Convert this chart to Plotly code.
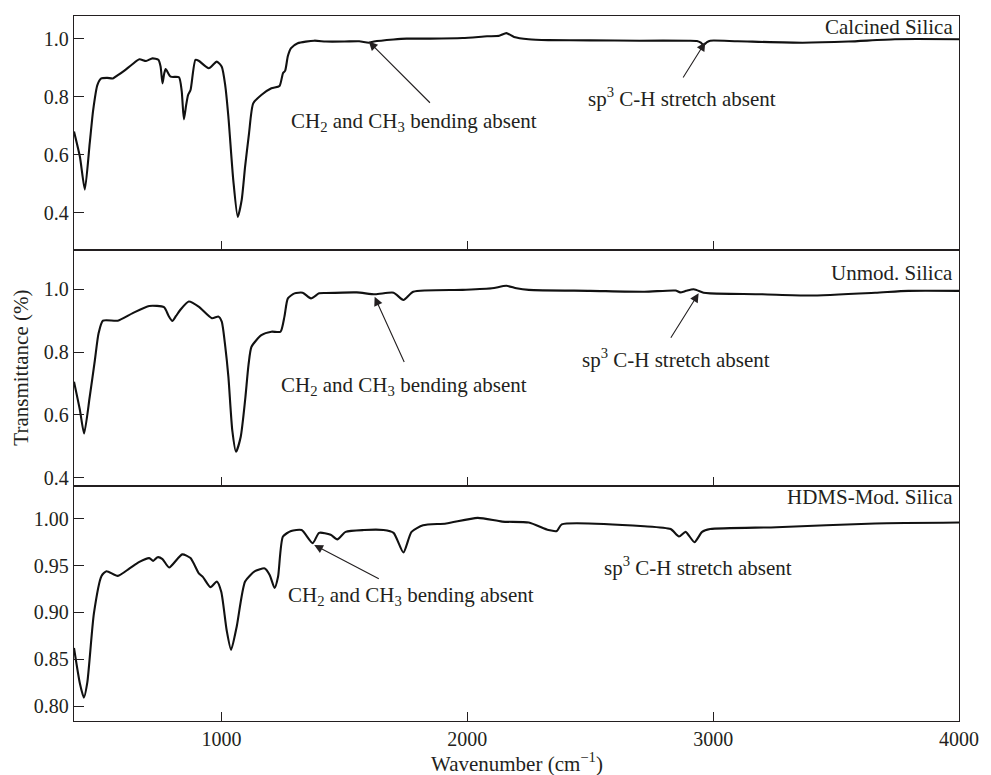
import plotly.graph_objects as go

# ---------------- data ----------------
wn_calcined = [400, 424, 444, 464, 478, 495, 511, 535, 558, 580, 605, 635, 666, 693, 719, 743, 752, 760, 767, 773,
               793, 827, 838, 847, 856, 864, 874, 894, 907, 948, 981, 1001, 1015, 1028, 1048, 1066, 1082, 1096, 1112,
               1129, 1162, 1203, 1236, 1250, 1259, 1270, 1283, 1310, 1377, 1424, 1500, 1560, 1599, 1620, 1700, 1753,
               1850, 1981, 2080, 2130, 2159, 2190, 2249, 2329, 2500, 2700, 2900, 2934, 2950, 2961, 2975, 2988, 3100,
               3364, 3550, 3739, 4000]
t_calcined = [0.68, 0.593, 0.48, 0.64, 0.754, 0.84, 0.863, 0.865, 0.863, 0.875, 0.89, 0.91, 0.929, 0.923, 0.932,
              0.927, 0.905, 0.846, 0.88, 0.895, 0.869, 0.867, 0.82, 0.722, 0.77, 0.806, 0.823, 0.927, 0.924, 0.898,
              0.921, 0.903, 0.84, 0.731, 0.512, 0.386, 0.444, 0.559, 0.674, 0.777, 0.806, 0.829, 0.837, 0.881, 0.89,
              0.94, 0.967, 0.984, 0.993, 0.99, 0.99, 0.991, 0.986, 0.99, 0.997, 1.0, 1.0, 1.002, 1.008, 1.01, 1.019,
              1.006, 0.998, 0.995, 0.994, 0.993, 0.993, 0.992, 0.986, 0.978, 0.988, 0.993, 0.991, 0.986, 0.99, 0.998,
              0.998]

wn_unmod = [400, 424, 441, 464, 485, 500, 518, 578, 639, 706, 766, 785, 800, 815, 832, 867, 907, 961, 988, 1001,
            1015, 1028, 1044, 1059, 1078, 1096, 1110, 1122, 1162, 1203, 1240, 1256, 1270, 1297, 1330, 1364, 1397,
            1424, 1550, 1625, 1700, 1740, 1780, 1981, 2100, 2159, 2200, 2250, 2500, 2720, 2847, 2866, 2890, 2921,
            2961, 2988, 3200, 3391, 3659, 3794, 4000]
t_unmod = [0.706, 0.616, 0.541, 0.658, 0.775, 0.86, 0.9, 0.9, 0.924, 0.947, 0.943, 0.915, 0.899, 0.915, 0.934, 0.961,
           0.945, 0.908, 0.913, 0.897, 0.82, 0.722, 0.55, 0.483, 0.53, 0.647, 0.76, 0.817, 0.854, 0.865, 0.865,
           0.913, 0.971, 0.987, 0.989, 0.971, 0.987, 0.988, 0.99, 0.984, 0.989, 0.966, 0.992, 0.998, 1.003, 1.011,
           1.003, 0.998, 0.995, 0.992, 0.996, 0.99, 0.995, 1.0, 0.989, 0.987, 0.984, 0.98, 0.989, 0.995, 0.995]

wn_hdms = [400, 424, 440, 454, 481, 512, 532, 578, 626, 666, 706, 722, 740, 760, 787, 840, 874, 907, 924, 955, 981,
           999, 1021, 1039, 1062, 1096, 1136, 1176, 1196, 1216, 1230, 1250, 1283, 1326, 1371, 1397, 1444, 1471, 1505,
           1579, 1659, 1700, 1740, 1773, 1820, 1914, 2042, 2142, 2250, 2330, 2364, 2384, 2720, 2827, 2861, 2888,
           2924, 2955, 2988, 3257, 3659, 4000]
t_hdms = [0.862, 0.824, 0.809, 0.825, 0.899, 0.939, 0.944, 0.939, 0.947, 0.954, 0.958, 0.955, 0.959, 0.957, 0.948,
          0.962, 0.958, 0.942, 0.938, 0.927, 0.933, 0.922, 0.881, 0.86, 0.885, 0.933, 0.944, 0.947, 0.94, 0.926,
          0.938, 0.981, 0.987, 0.988, 0.974, 0.985, 0.983, 0.978, 0.986, 0.988, 0.988, 0.985, 0.964, 0.986, 0.993,
          0.995, 1.001, 0.997, 0.996, 0.988, 0.987, 0.994, 0.992, 0.989, 0.981, 0.986, 0.975, 0.986, 0.989, 0.991,
          0.995, 0.996]

x_ticks = [1000, 2000, 3000, 4000]
y_ticks_top = [0.4, 0.6, 0.8, 1.0]
y_ticks_bottom = [0.80, 0.85, 0.90, 0.95, 1.00]
panel_names = ["Calcined Silica", "Unmod. Silica", "HDMS-Mod. Silica"]

# ---------------- figure ----------------
FONT = "Liberation Serif, Times New Roman, serif"
INK = "#231f20"
fig = go.Figure()
series = [(wn_calcined, t_calcined), (wn_unmod, t_unmod), (wn_hdms, t_hdms)]
for i, (xs, ys) in enumerate(series):
    sfx = "" if i == 0 else str(i + 1)
    fig.add_trace(go.Scatter(x=xs, y=ys, mode="lines", xaxis="x" + sfx, yaxis="y" + sfx,
                             line=dict(color="#111111", width=2.1, shape="spline", smoothing=0.6),
                             showlegend=False, hoverinfo="skip"))

domains = [[0.6681, 1.0], [0.3333, 0.6681], [0.0, 0.3333]]
yranges = [[0.272, 1.078], [0.374, 1.125], [0.784, 1.035]]
axis_common = dict(showline=True, linecolor=INK, linewidth=1.3, mirror=True, ticks="inside",
                   tickcolor=INK, tickwidth=1.3, showgrid=False, zeroline=False,
                   tickfont=dict(family=FONT, size=20, color=INK))
layout = dict(width=991, height=775, paper_bgcolor="white", plot_bgcolor="white",
              margin=dict(l=74, r=22, t=16, b=54), font=dict(family=FONT, color=INK))
for i in range(3):
    sfx = "" if i == 0 else str(i + 1)
    layout["xaxis" + sfx] = dict(axis_common, domain=[0, 1], anchor="y" + sfx, range=[400, 4000],
                                 tickvals=x_ticks, ticklen=9, showticklabels=(i == 2))
    yt = y_ticks_bottom if i == 2 else y_ticks_top
    layout["yaxis" + sfx] = dict(axis_common, domain=domains[i], anchor="x" + sfx, range=yranges[i],
                                 tickvals=yt, ticklen=10, tickformat=".2f" if i == 2 else ".1f")
fig.update_layout(**layout)

ann = []
# panel names
name_y = [1.041, 1.051, 1.0236]
for i, nm in enumerate(panel_names):
    sfx = "" if i == 0 else str(i + 1)
    ann.append(dict(text=nm, x=0.995, xref="x%s domain" % sfx, y=name_y[i], yref="y" + sfx,
                    xanchor="right", yanchor="middle", showarrow=False,
                    font=dict(family=FONT, size=21, color=INK)))

bend = "CH<sub>2</sub> and CH<sub>3</sub> bending absent"
stretch = "sp<sup>3</sup> C-H stretch absent"
texts = [(bend, 1781, 0.713, ""), (stretch, 2874, 0.799, ""),
         (bend, 1742, 0.693, "2"), (stretch, 2847, 0.780, "2"),
         (bend, 1770, 0.918, "3"), (stretch, 2937, 0.949, "3")]
for t, x, y, sfx in texts:
    ann.append(dict(text=t, x=x, y=y, xref="x" + sfx, yref="y" + sfx, showarrow=False,
                    xanchor="center", yanchor="middle", font=dict(family=FONT, size=21, color=INK)))

arrows = [(1599, 0.990, 1854, 0.774, ""), (2968, 0.988, 2874, 0.861, ""),
          (1623, 0.976, 1746, 0.764, "2"), (2941, 0.987, 2824, 0.841, "2"),
          (1377, 0.972, 1646, 0.935, "3")]
for hx, hy, tx, ty, sfx in arrows:
    ann.append(dict(text="", x=hx, y=hy, xref="x" + sfx, yref="y" + sfx, ax=tx, ay=ty,
                    axref="x" + sfx, ayref="y" + sfx, showarrow=True, arrowhead=2, arrowsize=1.6,
                    arrowwidth=1.1, arrowcolor=INK, standoff=0, startstandoff=0))

ann.append(dict(text="Transmittance (%)", x=-0.0603, y=0.5007, xref="paper", yref="paper",
                textangle=-90, showarrow=False, xanchor="center", yanchor="middle",
                font=dict(family=FONT, size=21, color=INK)))
ann.append(dict(text="Wavenumber (cm<sup>\u22121</sup>)", x=0.5, y=-0.0585, xref="paper", yref="paper",
                showarrow=False, xanchor="center", yanchor="middle",
                font=dict(family=FONT, size=21, color=INK)))
fig.update_layout(annotations=ann)

fig.write_html("out.html")
